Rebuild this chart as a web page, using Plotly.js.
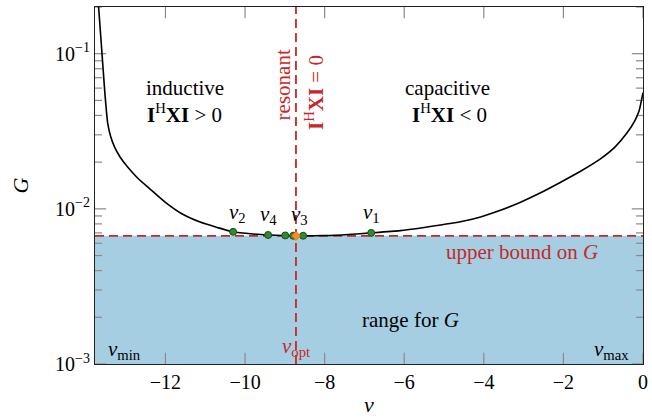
<!DOCTYPE html>
<html>
<head>
<meta charset="utf-8">
<script src="https://cdn.plot.ly/plotly-3.0.1.min.js"></script>
<style>html,body{margin:0;padding:0;background:#fff;}#chart{width:652px;height:417px;}</style>
</head>
<body>
<div id="chart"></div>
<script>
// curve G(nu)
var nu = [-13.68, -13.60, -13.52, -13.45, -13.38, -13.28, -13.14, -12.95, -12.7, -12.4, -12.0, -11.6, -11.13, -10.7, -10.3, -9.8, -9.42, -8.72, -8.0, -7.4, -6.83, -6.1, -5.5, -4.85, -4.2, -3.6, -3.09, -2.6, -2.08, -1.58, -1.08, -0.7, -0.40, -0.2, -0.1, 0];
var G  = [0.200, 0.105, 0.0550, 0.0355, 0.0295, 0.0251, 0.0216, 0.0186, 0.0158, 0.0135, 0.0110, 0.00933, 0.00822, 0.00759, 0.00711, 0.00689, 0.00679, 0.00670, 0.00673, 0.00684, 0.00700, 0.00724, 0.00759, 0.00804, 0.00871, 0.00977, 0.0110, 0.0126, 0.0148, 0.0174, 0.0209, 0.0251, 0.0309, 0.0372, 0.0427, 0.0562];
// sample points
var ptNu = [-10.3, -9.42, -8.99, -8.79, -8.54, -6.83];
var ptG  = [0.00711, 0.00679, 0.00674, 0.00671, 0.00671, 0.00700];
var optNu = [-8.72];
var optG = [0.00670];
var nuMin = -13.77, nuMax = 0;
var upperBound = 0.0067;
var gMin = 0.001, gMax = 0.2;
var xTicks = [-12, -10, -8, -6, -4, -2, 0];
var xTickText = ['\u221212', '\u221210', '\u22128', '\u22126', '\u22124', '\u22122', '0'];
var yTicks = [0.001, 0.01, 0.1];
var yTickText = ['10<sup>\u22123</sup>', '10<sup>\u22122</sup>', '10<sup>\u22121</sup>'];
var yMinorTicks = [0.002, 0.003, 0.004, 0.005, 0.006, 0.007, 0.008, 0.009,
                   0.02, 0.03, 0.04, 0.05, 0.06, 0.07, 0.08, 0.09, 0.2];

var serif = 'Liberation Serif, DejaVu Serif, serif';
var red = '#c62828';
var fs = 21;
var tickCol = '#8a8a8a';

function rep(v, n) { var a = []; for (var i = 0; i < n; i++) a.push(v); return a; }

// tick marks drawn as clipped line markers sitting on the frame (half falls outside and is clipped)
function tickTrace(xs, ys, sym, size) {
  return {x: xs, y: ys, mode: 'markers', cliponaxis: true, hoverinfo: 'skip',
          marker: {symbol: sym, size: size, color: tickCol, line: {color: tickCol, width: 1.2}}};
}

var traces = [
  {x: [nuMin, nuMax, nuMax, nuMin, nuMin], y: [gMin, gMin, upperBound, upperBound, gMin], fill: 'toself',
   fillcolor: 'rgb(166,206,227)', line: {width: 0}, mode: 'lines', hoverinfo: 'skip'},
  tickTrace(xTicks, rep(gMin, xTicks.length), 'line-ns-open', 16),
  tickTrace(xTicks, rep(gMax, xTicks.length), 'line-ns-open', 16),
  tickTrace(rep(nuMin, yTicks.length), yTicks, 'line-ew-open', 16),
  tickTrace(rep(nuMax, yTicks.length), yTicks, 'line-ew-open', 16),
  tickTrace(rep(nuMin, yMinorTicks.length), yMinorTicks, 'line-ew-open', 10),
  tickTrace(rep(nuMax, yMinorTicks.length), yMinorTicks, 'line-ew-open', 10),
  {x: [nuMin, nuMax], y: [upperBound, upperBound], mode: 'lines', line: {color: red, width: 1.8, dash: '9px,5px'}},
  {x: [optNu[0], optNu[0]], y: [gMin, gMax], mode: 'lines', line: {color: red, width: 1.8, dash: '9px,5px'}},
  {x: nu, y: G, mode: 'lines', line: {color: 'black', width: 1.6, shape: 'spline', smoothing: 0.6}},
  {x: ptNu, y: ptG, mode: 'markers', marker: {color: '#2e8b2e', size: 7, line: {color: '#1b4d1b', width: 1}}},
  {x: optNu, y: optG, mode: 'markers', marker: {color: '#ff8c1a', size: 7, symbol: 'diamond', line: {color: '#b35900', width: 0.5}}}
];

function ann(x, y, text, opts) {
  var a = {x: x, y: Math.log10(y), xref: 'x', yref: 'y', text: text, showarrow: false, font: {family: serif, size: fs, color: 'black'}};
  for (var k in opts) a[k] = opts[k];
  return a;
}

var annotations = [
  ann(-11.51, 0.060, 'inductive'),
  ann(-11.51, 0.0414, '<b>I</b><sup>H</sup><b>XI</b> > 0'),
  ann(-4.92, 0.060, 'capacitive'),
  ann(-4.85, 0.0414, '<b>I</b><sup>H</sup><b>XI</b> < 0'),
  ann(-9.04, 0.0627, 'resonant', {textangle: -90, font: {family: serif, size: fs, color: red}}),
  ann(-8.27, 0.0565, '<b>I</b><sup>H</sup><b>XI</b> = 0', {textangle: -90, font: {family: serif, size: fs, color: red}}),
  ann(-10.18, 0.00942, '<i>\u03bd</i><sub>2</sub>'),
  ann(-9.42, 0.00915, '<i>\u03bd</i><sub>4</sub>'),
  ann(-8.62, 0.00915, '<i>\u03bd</i><sub>3</sub>'),
  ann(-6.83, 0.00942, '<i>\u03bd</i><sub>1</sub>'),
  ann(-3.04, 0.00528, 'upper bound on <i>G</i>', {font: {family: serif, size: fs, color: red}}),
  ann(-5.85, 0.00193, 'range for <i>G</i>'),
  ann(-13.02, 0.00124, '<i>\u03bd</i><sub>min</sub>'),
  ann(-0.78, 0.00124, '<i>\u03bd</i><sub>max</sub>'),
  ann(-8.72, 0.00128, '<i>\u03bd</i><sub>opt</sub>', {font: {family: serif, size: fs, color: red}})
];

var layout = {
  width: 652, height: 417,
  margin: {l: 95, r: 9, t: 7, b: 53},
  paper_bgcolor: 'white', plot_bgcolor: 'white',
  showlegend: false,
  font: {family: serif, size: fs, color: 'black'},
  xaxis: {
    range: [nuMin, nuMax], showgrid: false, zeroline: false,
    showline: true, linecolor: '#222', linewidth: 1, mirror: true,
    ticks: '', tickvals: xTicks, ticktext: xTickText, tickfont: {family: serif, size: 20},
    title: {text: '<i>\u03bd</i>', font: {family: serif, size: 22}, standoff: 6}
  },
  yaxis: {
    type: 'log', range: [Math.log10(gMin), Math.log10(gMax)], showgrid: false, zeroline: false,
    showline: true, linecolor: '#222', linewidth: 1, mirror: true,
    ticks: '', tickvals: yTicks, ticktext: yTickText, tickfont: {family: serif, size: 20},
    title: {text: '<i>G</i>', font: {family: serif, size: 22}, standoff: 20}
  },
  annotations: annotations
};

Plotly.newPlot('chart', traces, layout, {staticPlot: true, displayModeBar: false});
</script>
</body>
</html>
